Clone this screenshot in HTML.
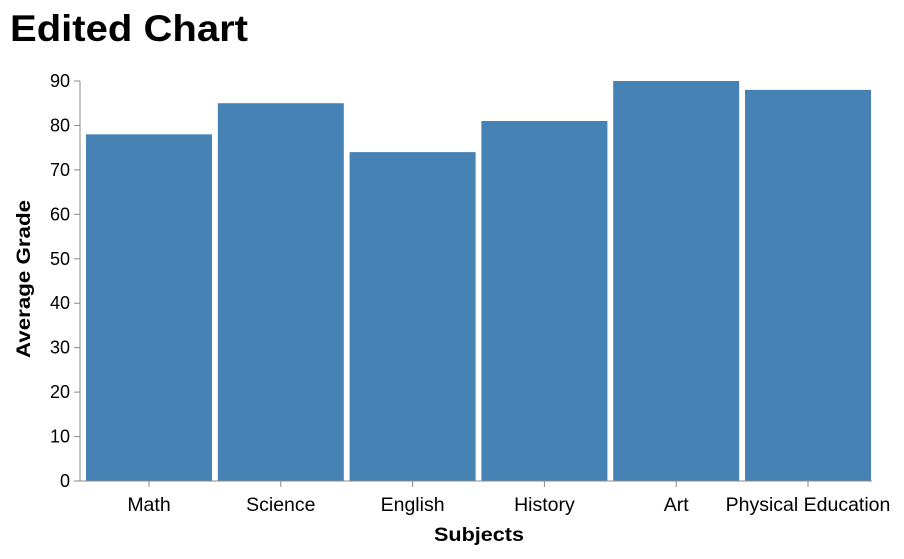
<!DOCTYPE html>
<html><head><meta charset="utf-8"><style>
body{margin:0;background:#fff;}
svg text{font-family:"Liberation Sans",Arial,sans-serif;}
</style></head><body>
<svg id="chart" width="904" height="554">
<text x="10" y="41" font-size="37" font-weight="bold" fill="#000" textLength="238" lengthAdjust="spacingAndGlyphs">Edited Chart</text>
<g id="grid"></g>
<g id="bars"></g>
<g id="axes"></g>
<text transform="translate(30,279) rotate(-90)" text-anchor="middle" font-size="19" font-weight="bold" textLength="158" lengthAdjust="spacingAndGlyphs">Average Grade</text>
<text x="479" y="541" text-anchor="middle" font-size="19" font-weight="bold" textLength="90" lengthAdjust="spacingAndGlyphs">Subjects</text>
</svg>
<script>
const categories = ["Math","Science","English","History","Art","Physical Education"];
const values = [78,85,74,81,90,88];
const yTicks = [0,10,20,30,40,50,60,70,80,90];
const NS="http://www.w3.org/2000/svg";
const y0=481, y1=81, yMax=90;
function y(v){return y0-(v/yMax)*(y0-y1);}
const step=131.8, firstCenter=149, barW=126;
function xc(i){return firstCenter+i*step;}
const bars=document.getElementById('bars'), axes=document.getElementById('axes');
function mk(tag,attrs,parent){const e=document.createElementNS(NS,tag);for(const k in attrs)e.setAttribute(k,attrs[k]);parent.appendChild(e);return e;}
categories.forEach((c,i)=>{
  const r=mk('rect',{x:xc(i)-barW/2,y:y(values[i]),width:barW,height:y0-y(values[i]),fill:'#4682b4'},bars);
  
  
  mk('line',{x1:xc(i),x2:xc(i),y1:y0,y2:y0+6,stroke:'#888'},axes);
  const t=mk('text',{x:xc(i),y:y0+30,'text-anchor':'middle','font-size':'19.5',fill:'#000'},axes);
  t.textContent=c;
  
  
});
yTicks.forEach(v=>{
  mk('line',{x1:74,x2:80,y1:y(v),y2:y(v),stroke:'#888'},axes);
  const t=mk('text',{x:70,y:y(v)+6,'text-anchor':'end','font-size':'18',fill:'#000'},axes);
  t.textContent=v;
  
  
});
const ya=mk('line',{x1:80,x2:80,y1:y1,y2:y0,stroke:'#888'},axes);


const xa=mk('line',{x1:80,x2:872,y1:y0,y2:y0,stroke:'#888'},axes);


</script>
</body></html>
